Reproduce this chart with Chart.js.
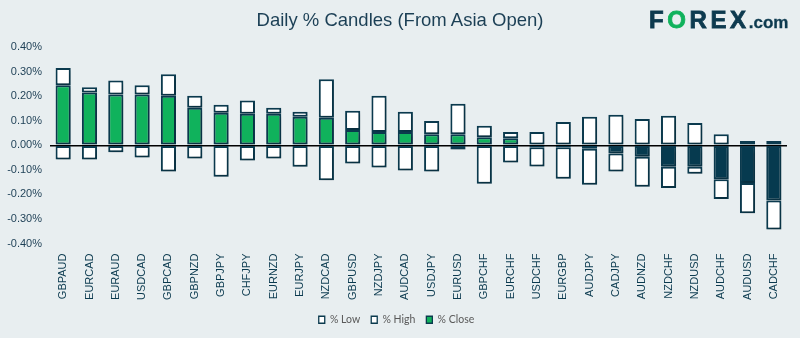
<!DOCTYPE html>
<html lang="en">
<head>
    <meta charset="UTF-8">
    <title>Daily % Candles (From Asia Open)</title>
    <style>
        body {
            margin: 0;
            padding: 0;
            background-color: #e8eef0;
            font-family: 'Liberation Sans', Arial, sans-serif;
        }

        .wrap {
            position: relative;
            width: 800px;
            height: 338px;
        }

        .chart-title {
            position: absolute;
            left: 0;
            top: 9px;
            width: 800px;
            text-align: center;
            font-size: 18.5px;
            color: #1b3f55;
        }

        .logo {
            position: absolute;
            left: 649px;
            top: 6px;
            font-weight: bold;
            color: #0d3a4f;
            white-space: nowrap;
        }

        .logo .main {
            font-size: 24px;
            letter-spacing: 3.6px;
            -webkit-text-stroke: 0.8px #0d3a4f;
        }

        .logo .o {
            color: #10b25c;
            -webkit-text-stroke: 0.8px #10b25c;
        }

        .logo .dom {
            font-size: 17px;
            margin-left: -1px;
            -webkit-text-stroke: 0.3px #0d3a4f;
        }

        canvas {
            position: absolute;
            left: 0;
            top: 0;
        }
    </style>
</head>
<body>
    <div class="wrap">
        <canvas id="myChart" width="800" height="338"></canvas>
        <div class="chart-title">Daily % Candles (From Asia Open)</div>
        <div class="logo"><span class="main">F<span class="o">O</span>REX</span><span class="dom">.com</span></div>
    </div>

    <script src="https://cdn.jsdelivr.net/npm/chart.js"></script>
    <script>
        const pairs = ['GBPAUD', 'EURCAD', 'EURAUD', 'USDCAD', 'GBPCAD', 'GBPNZD', 'GBPJPY', 'CHFJPY', 'EURNZD', 'EURJPY',
            'NZDCAD', 'GBPUSD', 'NZDJPY', 'AUDCAD', 'USDJPY', 'EURUSD', 'GBPCHF', 'EURCHF', 'USDCHF', 'EURGBP',
            'AUDJPY', 'CADJPY', 'AUDNZD', 'NZDCHF', 'NZDUSD', 'AUDCHF', 'AUDUSD', 'CADCHF'];

        // % moves since the Asia open
        const highs = [0.314, 0.236, 0.264, 0.244, 0.289, 0.202, 0.165, 0.182, 0.153, 0.136,
            0.269, 0.140, 0.202, 0.136, 0.099, 0.169, 0.079, 0.054, 0.054, 0.095,
            0.116, 0.124, 0.107, 0.120, 0.091, 0.045, 0.017, 0.017];
        const lows = [-0.058, -0.058, -0.029, -0.050, -0.107, -0.054, -0.128, -0.062, -0.054, -0.088,
            -0.142, -0.074, -0.091, -0.103, -0.107, -0.017, -0.157, -0.070, -0.087, -0.136,
            -0.161, -0.107, -0.169, -0.174, -0.116, -0.219, -0.277, -0.343];
        const closes = [0.244, 0.215, 0.207, 0.207, 0.202, 0.153, 0.132, 0.128, 0.128, 0.116,
            0.112, 0.062, 0.054, 0.054, 0.045, 0.045, 0.033, 0.029, -0.008, -0.008,
            -0.014, -0.034, -0.047, -0.088, -0.088, -0.138, -0.154, -0.225];

        const navy = '#063a4f';
        const green = '#10b25c';
        const edge = '#0b3a4e';

        // low/high tails start where the close body ends
        const lowBars = lows.map((v, i) => [Math.min(closes[i], 0), v]);
        const highBars = highs.map((v, i) => [Math.max(closes[i], 0), v]);
        const closeBars = closes.map(v => [0, v]);

        const barStyle = {
            borderColor: edge,
            borderWidth: 2,
            borderSkipped: false,
            barPercentage: 0.72,
            categoryPercentage: 0.8
        };

        // soft drop shadow under the bars
        const barShadow = {
            id: 'barShadow',
            beforeDatasetsDraw(chart) {
                const ctx = chart.ctx;
                ctx.save();
                ctx.shadowColor = 'rgba(0, 0, 0, 0.22)';
                ctx.shadowBlur = 3;
                ctx.shadowOffsetX = 1.5;
                ctx.shadowOffsetY = 2.5;
            },
            afterDatasetsDraw(chart) {
                chart.ctx.restore();
            }
        };

        const axisFont = { family: "'Liberation Sans', Arial, sans-serif", size: 11 };

        new Chart(document.getElementById('myChart'), {
            type: 'bar',
            data: {
                labels: pairs,
                datasets: [
                    { label: '% Low', data: lowBars, backgroundColor: '#ffffff', ...barStyle },
                    { label: '% High', data: highBars, backgroundColor: '#ffffff', ...barStyle },
                    {
                        label: '% Close',
                        data: closeBars,
                        backgroundColor: c => (c.type === 'data' && closes[c.dataIndex] < 0) ? navy : green,
                        ...barStyle
                    }
                ]
            },
            options: {
                responsive: false,
                animation: false,
                layout: { padding: { top: 47, right: 13, bottom: 3, left: 6 } },
                scales: {
                    x: {
                        stacked: true,
                        grid: { display: false },
                        border: { display: false },
                        ticks: {
                            minRotation: 90,
                            maxRotation: 90,
                            autoSkip: false,
                            padding: 2,
                            color: '#0b3a4f',
                            font: axisFont
                        },
                        afterFit: s => { s.height = 60; }
                    },
                    y: {
                        min: -0.4,
                        max: 0.4,
                        z: 1, // zero line sits on top of the bars
                        border: { display: false },
                        grid: {
                            drawTicks: false,
                            color: c => Math.abs(c.tick.value) < 1e-9 ? '#000000' : 'rgba(0,0,0,0)',
                            lineWidth: 1.5
                        },
                        ticks: {
                            stepSize: 0.1,
                            padding: 8,
                            color: '#1d3f55',
                            font: axisFont,
                            callback: v => v.toFixed(2) + '%'
                        },
                        afterFit: s => { s.width = 44; }
                    }
                },
                plugins: {
                    legend: {
                        position: 'bottom',
                        labels: {
                            boxWidth: 6,
                            boxHeight: 7,
                            padding: 11,
                            color: '#595959',
                            font: { family: 'Lato, sans-serif', size: 10.5 },
                            generateLabels: chart => Chart.defaults.plugins.legend.labels.generateLabels(chart)
                                .map(item => ({ ...item, lineWidth: 1.3 }))
                        }
                    },
                    tooltip: { enabled: false }
                }
            },
            plugins: [barShadow]
        });
    </script>
</body>
</html>
